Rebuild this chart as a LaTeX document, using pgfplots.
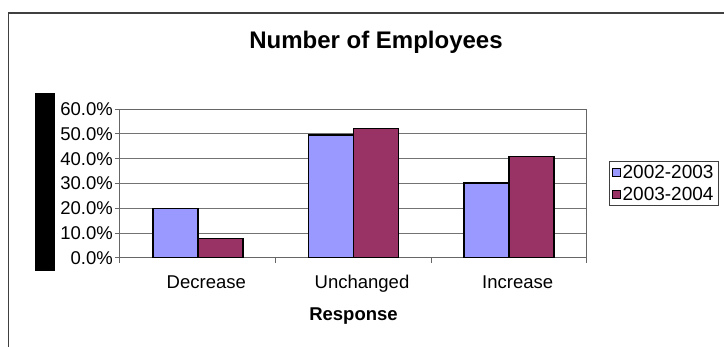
\documentclass[border=0pt]{standalone}
\usepackage{pgfplots}
\pgfplotsset{compat=1.18}
\usepackage{fontspec}
\setmainfont{Liberation Sans}
\definecolor{barblue}{HTML}{9999FF}
\definecolor{barred}{HTML}{993366}
\definecolor{framegray}{HTML}{404040}
\begin{document}
\begin{tikzpicture}[x=1pt,y=1pt]
\useasboundingbox (0,0) rectangle (724,347);
\draw[framegray, line width=1.5pt] (8.5,-5) -- (8.5,334) -- (730,334);
\fill[black] (35,76) rectangle (55,254);
\node[font=\fontsize{24}{28}\selectfont\bfseries] at (376,305) {Number of Employees};
\begin{axis}[
  scale only axis, width=467pt, height=149pt,
  at={(120pt,89pt)}, anchor=south west,
  xmin=-0.5, xmax=2.5, ymin=0, ymax=60,
  ybar=0pt, bar width=45pt,
  xtick={0,1,2}, xticklabels={Decrease,Unchanged,Increase},
  minor xtick={-0.5,0.5,1.5,2.5},
  major x tick style={draw=none},
  xtick pos=bottom, ytick pos=left,
  ytick={0,10,...,60},
  yticklabel={\pgfmathprintnumber[fixed,fixed zerofill,precision=1]{\tick}\%},
  /pgf/number format/assume math mode=true,
  tick align=outside, major tick length=5pt, minor tick length=5pt,
  tick style={black!60, line width=1pt},
  axis line style={black!60, line width=1pt},
  ymajorgrids, major grid style={black!55, line width=1pt},
  ticklabel style={font=\fontsize{18.5}{20}\selectfont},
  yticklabel style={anchor=east, inner sep=0pt, xshift=-2pt},
  xticklabel style={anchor=base, inner sep=0pt, yshift=-26pt, xshift=8.5pt},
  xlabel={Response},
  xlabel style={font=\fontsize{18.5}{20}\selectfont\bfseries, at={(axis description cs:0.5,0)}, anchor=center, yshift=-58pt},
  legend style={at={(1.047,0.650)}, anchor=north west, draw=framegray, line width=0.8pt,
    inner xsep=3pt, inner ysep=1.5pt, font=\fontsize{19}{21}\selectfont, row sep=3.5pt,
    nodes={inner xsep=1.5pt}},
  legend cell align=left,
  legend image code/.code={\draw[#1,draw=black,line width=0.8pt] (0pt,-4pt) rectangle (8pt,4pt);},
]
\addplot[fill=barblue, draw=black, line width=1.5pt] coordinates {(0,20.0) (1,49.6) (2,30.1)};
\addplot[fill=barred, draw=black, line width=1.5pt] coordinates {(0,7.8) (1,52.2) (2,40.8)};
\legend{2002-2003,2003-2004}
\end{axis}
\end{tikzpicture}
\end{document}
